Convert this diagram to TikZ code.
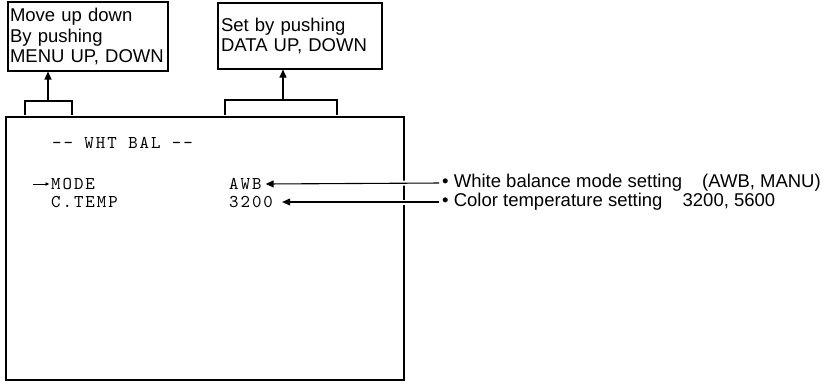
\documentclass[tikz,border=0pt]{standalone}
\usepackage{fontspec}
\setmainfont{Liberation Sans}
\newfontfamily\lcdfont[Extension=.otf, LetterSpace=11]{lmmono10-regular}
\usetikzlibrary{arrows.meta,positioning}

\begin{document}
\begin{tikzpicture}[x=1pt, y=1pt, >={Triangle[length=8pt,width=7pt]},
  label box/.style={draw, line width=1.1pt, inner sep=2pt, align=left, font=\fontsize{18.5}{20.5}\selectfont},
  lcd text/.style={inner sep=0pt, anchor=west, font=\lcdfont\fontsize{18}{20}\selectfont},
  note text/.style={inner sep=0pt, anchor=west, font=\fontsize{18.5}{20.5}\selectfont},
  thin line/.style={line width=1.1pt},
  pointer/.style={thin line, ->, preaction={draw=white, line width=5pt, -}}]
\useasboundingbox (0,0) rectangle (824,384);

% boxes above the screen
\node[label box, minimum width=160pt, minimum height=69pt, text width=156pt] (menu) at (88,347.5)
  {Move up down\\By pushing\\MENU UP, DOWN};
\node[label box, minimum width=164pt, minimum height=66pt, text width=158pt] (data) at (300,348)
  {Set by pushing\\DATA UP, DOWN};

% screen
\node[draw, line width=2pt, minimum width=398pt, minimum height=263pt, inner sep=0pt] (screen) at (205,135.5) {};
\node[lcd text] (title) at (52,241) {-- WHT BAL --};
\node[lcd text] (mode)  at (51,200) {MODE};
\node[lcd text] (ctemp) at (51,182) {C.TEMP};
\node[lcd text] (awb)   at (229,200) {AWB};
\node[lcd text] (tval)  at (229,182) {3200};
\coordinate (cursor) at (33,200);
\draw[line width=0.7pt, -{Latex[length=4pt,width=4pt]}, shorten >=1.5pt] (cursor) -- (mode.west);

% brackets
\coordinate (menu mark) at (48,283);
\coordinate (data mark) at (283,284);
\draw[thin line] (25,269) |- (72,283) -- (72,269);
\draw[thin line] (225,269) |- (337,284) -- (337,269);
\draw[thin line, ->] (menu mark) -- (menu mark |- menu.south);
\draw[thin line, ->] (data mark) -- (data mark |- data.south);

% notes on the right
\node[note text] (wb)   at (442,201) {• White balance mode setting\hspace{15pt} (AWB, MANU)};
\node[note text] (temp) at (442,182) {• Color temperature setting\hspace{15pt} 3200, 5600};
\draw[pointer, shorten <=3pt] (wb.west) -- ([xshift=4pt]awb.east);
\draw[pointer, shorten <=3pt] (temp.west) -- ([xshift=9pt]tval.east);
\end{tikzpicture}
\end{document}
